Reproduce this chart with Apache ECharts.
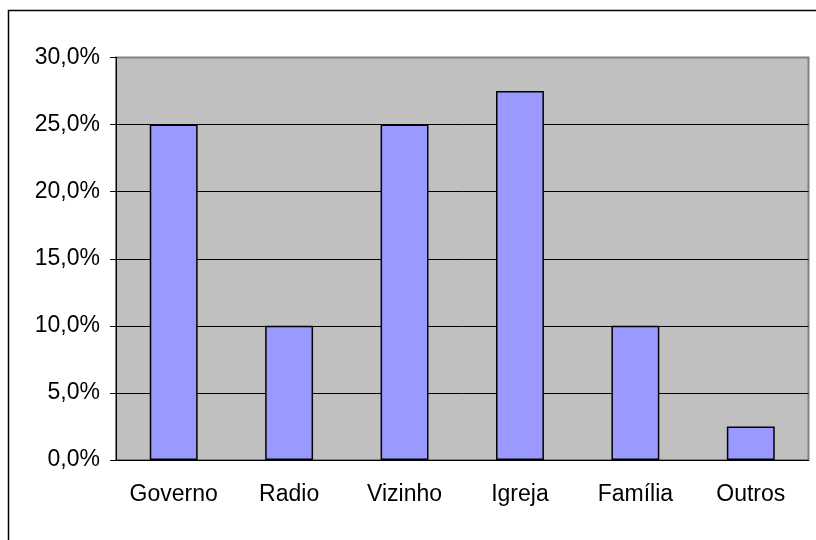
<!DOCTYPE html>
<html><head><meta charset="utf-8">
<script src="https://cdn.jsdelivr.net/npm/echarts@6/dist/echarts.min.js"></script>
<style>html,body{margin:0;padding:0;background:#fff}#c{width:816px;height:540px}</style>
</head><body><div id="c"></div>
<script>
var categories = ['Governo', 'Radio', 'Vizinho', 'Igreja', 'Família', 'Outros'];
var values = [25.0, 10.0, 25.0, 27.5, 10.0, 2.5];
var yMin = 0, yMax = 30, yStep = 5;

var chart = echarts.init(document.getElementById('c'), null, {renderer: 'canvas'});
chart.setOption({
  animation: false,
  backgroundColor: '#ffffff',
  textStyle: {fontFamily: 'Liberation Sans, Arial, sans-serif'},
  graphic: [{
    type: 'rect', shape: {x: 8.5, y: 10.5, width: 830, height: 560},
    style: {fill: 'none', stroke: '#000', lineWidth: 1.5}, z: 100, silent: true
  }],
  grid: {left: 116, top: 57.5, right: 7.5, bottom: 80, show: true,
    backgroundColor: '#C0C0C0', borderColor: '#808080', borderWidth: 2},
  xAxis: {
    type: 'category', data: categories,
    axisLine: {lineStyle: {color: '#000', width: 1}},
    axisTick: {length: 6, lineStyle: {color: '#000'}},
    axisLabel: {color: '#000', fontSize: 23, margin: 23}
  },
  yAxis: {
    type: 'value', min: yMin, max: yMax, interval: yStep,
    axisLine: {show: true, lineStyle: {color: '#000', width: 1}},
    axisTick: {show: true, length: 6, lineStyle: {color: '#000'}},
    splitLine: {show: true, showMaxLine: false, lineStyle: {color: '#000', width: 1}},
    axisLabel: {color: '#000', fontSize: 23, margin: 16,
      formatter: function (v) { return v.toFixed(1).replace('.', ',') + '%'; }}
  },
  series: [{
    type: 'bar', data: values, barWidth: '41.5%',
    itemStyle: {color: '#9999FF', borderColor: '#000', borderWidth: 1.5}
  }]
});
</script></body></html>
